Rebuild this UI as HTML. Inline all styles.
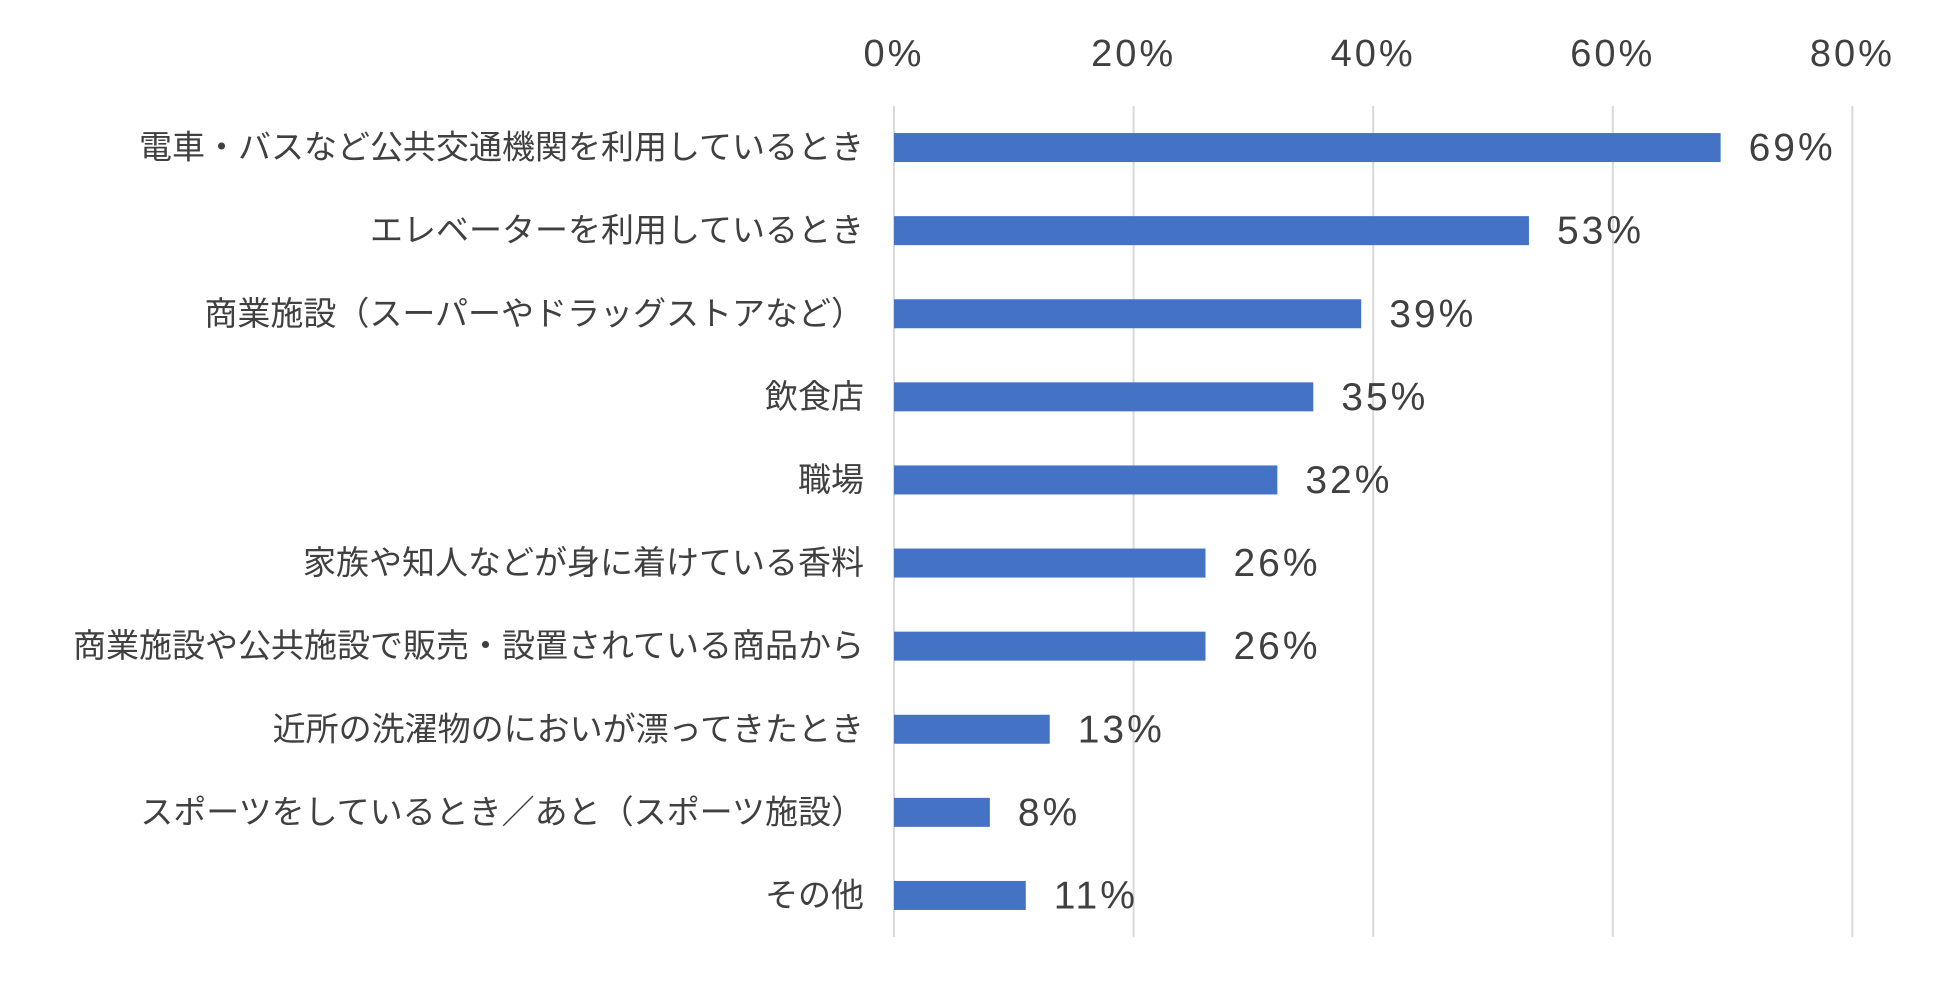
<!DOCTYPE html>
<html><head><meta charset="utf-8"><style>
html,body{margin:0;padding:0;background:#fff;}
svg text{font-family:"Liberation Sans","Noto Sans CJK JP",sans-serif;fill:#404040;}
</style></head><body>
<svg id="chart" width="1950" height="984" xmlns="http://www.w3.org/2000/svg"></svg>
<script>
const categories=["電車・バスなど公共交通機関を利用しているとき","エレベーターを利用しているとき","商業施設（スーパーやドラッグストアなど）","飲食店","職場","家族や知人などが身に着けている香料","商業施設や公共施設で販売・設置されている商品から","近所の洗濯物のにおいが漂ってきたとき","スポーツをしているとき／あと（スポーツ施設）","その他"];
const values=[69,53,39,35,32,26,26,13,8,11];
const valueLabels=["69%","53%","39%","35%","32%","26%","26%","13%","8%","11%"];
const ticks=[0,20,40,60,80];
const tickLabels=["0%","20%","40%","60%","80%"];
const svg=document.getElementById('chart');
const NS="http://www.w3.org/2000/svg";
const x0=894,pxPer=11.98,rowTop=106,rowH=83.1,barH=29;
const xs=v=>x0+v*pxPer;
const yc=i=>rowTop+rowH*(i+0.5);
function mk(t,a){const e=document.createElementNS(NS,t);for(const k in a)e.setAttribute(k,a[k]);svg.appendChild(e);return e;}
ticks.forEach((t,i)=>{
 const l=mk('line',{x1:xs(t),x2:xs(t),y1:106,y2:937,stroke:'#d9d9d9','stroke-width':2});
 
 
 const tx=mk('text',{x:xs(t),y:66,'text-anchor':'middle','font-size':38,'letter-spacing':3});
 tx.textContent=tickLabels[i];
 
 
});
categories.forEach((c,i)=>{
 const y=yc(i);
 const r=mk('rect',{x:x0,y:y-barH/2,width:xs(values[i])-x0,height:barH,fill:'#4472c4'});
 
 
 const t=mk('text',{x:864,y:y+11,'text-anchor':'end','font-size':33});
 t.textContent=c;
 
 
 const v=mk('text',{x:xs(values[i])+28,y:y+13,'font-size':39,'letter-spacing':3});
 v.textContent=valueLabels[i];
 
 
});
</script>
</body></html>
